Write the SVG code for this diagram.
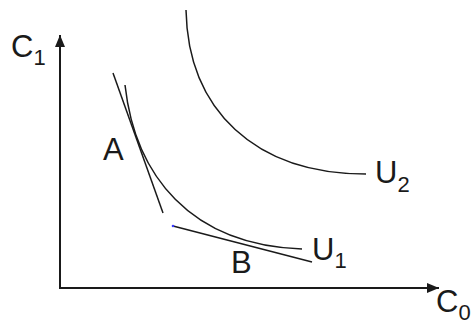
<svg xmlns="http://www.w3.org/2000/svg" width="475" height="320" viewBox="0 0 475 320">
<style>
.ln{fill:none;stroke:#1a1a1a;stroke-width:1.5}
.ax{fill:none;stroke:#1a1a1a;stroke-width:2}
.lb{font-family:"Liberation Sans",Arial,sans-serif;font-size:31px;fill:#1a1a1a}
.sb{font-size:22px}
</style>
<defs>
<marker id="ah" viewBox="0 0 12 10" refX="12" refY="5" markerWidth="12" markerHeight="10" markerUnits="userSpaceOnUse" orient="auto">
<path d="M0,0 L12,5 L0,10 Z" fill="#1a1a1a"/>
</marker>
</defs>
<rect width="475" height="320" fill="#fff"/>
<g id="axes">
<path id="y-axis" class="ax" d="M60,289 L60,35" marker-end="url(#ah)"/>
<path id="x-axis" class="ax" d="M59,288 L439,288" marker-end="url(#ah)"/>
</g>
<g id="connectors">
<path id="U2-curve" class="ln" d="M186,10 C188,110 255,174 366,174"/>
<path id="U1-curve" class="ln" d="M125,85 C135,175 190,245 302,249"/>
<path id="tangent-A" class="ln" d="M113,73 L163,213"/>
<path id="tangent-B" class="ln" d="M173,226 L312,262"/>
<circle cx="173" cy="226" r="1.3" fill="#3a3aff"/>
</g>
<g id="label-C1"><text class="lb" x="11" y="57">C<tspan class="sb" dy="8">1</tspan></text></g>
<g id="label-A"><text class="lb" x="103" y="160">A</text></g>
<g id="label-B"><text class="lb" x="231" y="273">B</text></g>
<g id="label-U1"><text class="lb" x="312" y="260">U<tspan class="sb" dy="8">1</tspan></text></g>
<g id="label-U2"><text class="lb" x="375" y="183">U<tspan class="sb" dy="9">2</tspan></text></g>
<g id="label-C0"><text class="lb" x="436" y="312">C<tspan class="sb" dy="8">0</tspan></text></g>
</svg>
